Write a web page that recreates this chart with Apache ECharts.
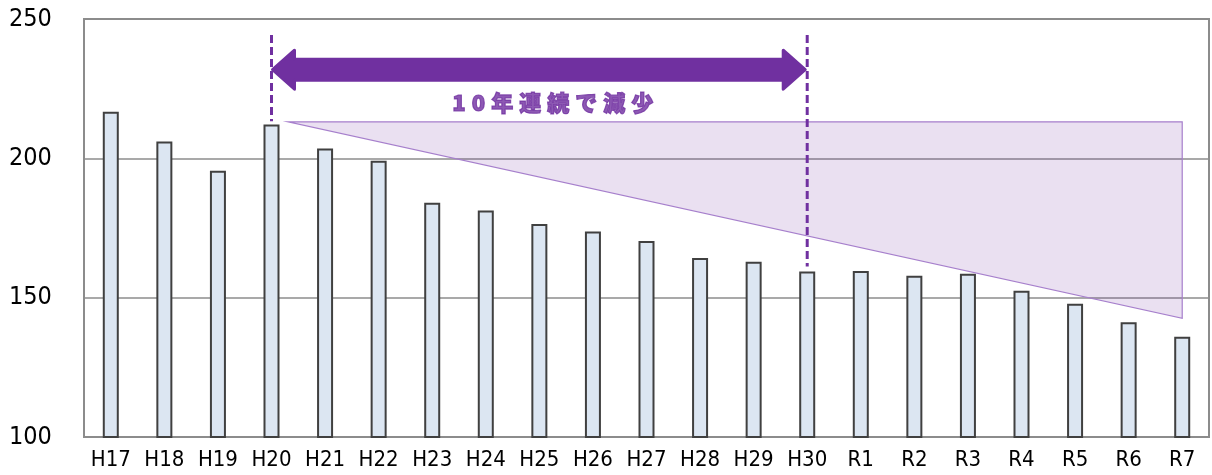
<!DOCTYPE html>
<html>
<head>
<meta charset="utf-8">
<script src="https://cdn.jsdelivr.net/npm/echarts@6/dist/echarts.min.js"></script>
<style>
html, body { margin: 0; padding: 0; background: #fff; }
#main { width: 1212px; height: 475px; }
</style>
</head>
<body>
<div id="main"></div>
<script>
var years = ['H17', 'H18', 'H19', 'H20', 'H21', 'H22', 'H23', 'H24', 'H25', 'H26', 'H27',
    'H28', 'H29', 'H30', 'R1', 'R2', 'R3', 'R4', 'R5', 'R6', 'R7'];
var values = [216.7, 206.0, 195.5, 212.1, 203.5, 199.1, 184.1, 181.3, 176.4, 173.7, 170.3,
    164.2, 162.9, 159.4, 159.6, 157.9, 158.6, 152.5, 147.8, 141.2, 136.0];
var yTicks = [100, 150, 200, 250];

// 注釈（x は年の番号、y は値）
var triX = [3.31, 20, 20];
var triY = [213.1, 213.1, 142.6];
var spanFrom = 3;      // H20
var spanTo = 13;       // H30
var arrowY = 231.8;
var dashTop = 244.3;
var dashBottom = [213.3, 161.2];
var noteText = '10年連続で減少';
var noteX = 8.25;
var noteY = 220;

var purple = '#7030A0';
var labelFont = '"DejaVu Sans Condensed", "DejaVu Sans", sans-serif';

var chart = echarts.init(document.getElementById('main'));

var renderTriangle = function (params, api) {
    var pts = [];
    for (var i = 0; i < triX.length; i++) {
        pts.push(api.coord([triX[i], triY[i]]));
    }
    return {
        type: 'polygon',
        shape: { points: pts },
        style: {
            fill: 'rgba(112, 48, 160, 0.15)',
            stroke: '#A67FCC',
            lineWidth: 1.2
        }
    };
};

var renderArrow = function (params, api) {
    var a = api.coord([spanFrom, arrowY]);
    var b = api.coord([spanTo, arrowY]);
    var hl = 22, hh = 19.5, sh = 10.5;
    var x1 = a[0] + 1, x2 = b[0] - 2, y = a[1];
    var children = [];
    var xs = [spanFrom, spanTo];
    for (var i = 0; i < xs.length; i++) {
        var t = api.coord([xs[i], dashTop]);
        var d = api.coord([xs[i], dashBottom[i]]);
        children.push({
            type: 'line',
            shape: { x1: t[0], y1: t[1], x2: d[0], y2: d[1] },
            style: { stroke: purple, lineWidth: 3, lineDash: [8, 4] }
        });
    }
    children.push({
        type: 'polygon',
        shape: {
            points: [
                [x1, y], [x1 + hl, y - hh], [x1 + hl, y - sh], [x2 - hl, y - sh], [x2 - hl, y - hh],
                [x2, y], [x2 - hl, y + hh], [x2 - hl, y + sh], [x1 + hl, y + sh], [x1 + hl, y + hh]
            ]
        },
        style: { fill: purple, stroke: purple, lineWidth: 3, lineJoin: 'round' }
    });
    return { type: 'group', children: children };
};

var option = {
    animation: false,
    backgroundColor: '#fff',
    grid: {
        left: 84,
        right: 3,
        top: 19,
        bottom: 38,
        show: true,
        borderColor: '#8C8C8C',
        borderWidth: 2
    },
    xAxis: [{
        type: 'category',
        data: years,
        axisTick: { show: false },
        axisLine: { lineStyle: { color: '#8C8C8C', width: 2 } },
        axisLabel: {
            interval: 0,
            color: '#000',
            fontSize: 22,
            fontFamily: labelFont,
            margin: 12
        }
    }, {
        type: 'value',
        min: -0.5,
        max: 20.5,
        show: false
    }],
    yAxis: {
        type: 'value',
        min: yTicks[0],
        max: yTicks[yTicks.length - 1],
        interval: 50,
        axisLine: { show: false },
        axisTick: { show: false },
        splitLine: { lineStyle: { color: '#8C8C8C', width: 1.5 } },
        axisLabel: {
            color: '#000',
            fontSize: 25,
            fontFamily: labelFont,
            align: 'left',
            margin: 75
        }
    },
    series: [{
        type: 'bar',
        data: values,
        barWidth: 16,
        itemStyle: {
            color: '#DCE6F2',
            borderColor: '#404040',
            borderWidth: 2
        }
    }, {
        type: 'custom',
        xAxisIndex: 1,
        renderItem: renderTriangle,
        data: [0],
        silent: true,
        z: 3
    }, {
        type: 'custom',
        xAxisIndex: 1,
        renderItem: renderArrow,
        data: [0],
        silent: true,
        z: 4
    }, {
        // 「10年連続で減少」の文字（一文字ずつ間隔をあける）
        type: 'scatter',
        xAxisIndex: 1,
        data: [[noteX, noteY]],
        symbolSize: 0,
        silent: true,
        z: 5,
        label: {
            show: true,
            position: 'inside',
            fontSize: 22,
            fontWeight: 'bold',
            fontFamily: '"Noto Sans CJK JP", sans-serif',
            color: purple,
            formatter: function () {
                return noteText.split('').map(function (c) { return '{c|' + c + '}'; }).join('');
            },
            rich: {
                c: {
                    color: purple,
                    fontSize: 22,
                    fontWeight: 900,
                    fontFamily: '"Noto Sans CJK JP", sans-serif',
                    textBorderColor: purple,
                    textBorderWidth: 1.2,
                    padding: [0, 3]
                }
            }
        }
    }]
};

chart.setOption(option);
</script>
</body>
</html>
